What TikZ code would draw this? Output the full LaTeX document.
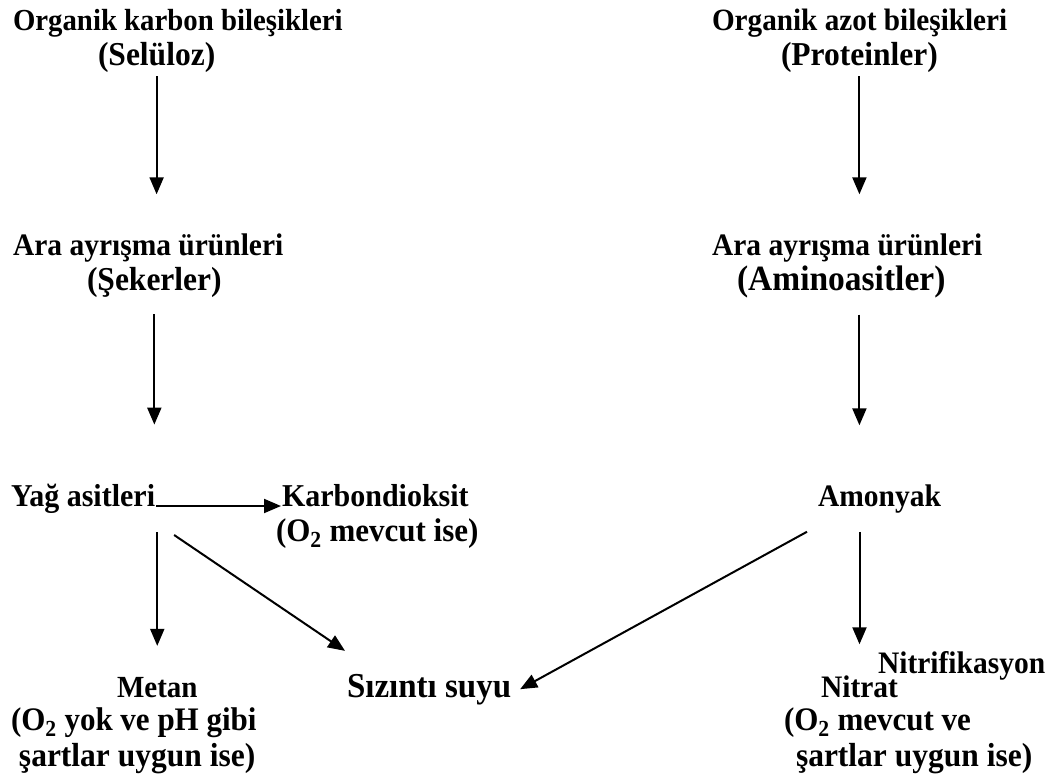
\documentclass[tikz,border=0pt]{standalone}
\usepackage{fontspec}
\setmainfont{Liberation Serif}
\usetikzlibrary{arrows.meta}
\newcommand\tl[1]{\scalebox{1}[1.06]{#1}}
\begin{document}
\begin{tikzpicture}[x=1pt,y=-1pt,
  lbl/.style={anchor=base west,inner sep=0pt,font=\fontsize{#1}{34}\selectfont\bfseries},
  lbl/.default=30,
  >={Triangle[length=17pt,width=14pt]},line width=2pt]
\useasboundingbox (0,0) rectangle (1053,776);
% karbon kolonu
\node[lbl=28.8] (OKB) at (12,31) {\tl{Organik karbon bileşikleri}};
\node[lbl=31.5] (SEL) at (97,66) {\tl{(Selüloz)}};
\node[lbl=29.5] (AAL) at (12,255) {\tl{Ara ayrışma ürünleri}};
\node[lbl=31.5] (SEK) at (86,290) {\tl{(Şekerler)}};
\node[lbl] (YAG) at (10,506) {\tl{Yağ asitleri}};
\node[lbl] (KDO) at (281,506) {\tl{Karbondioksit}};
\node[lbl=31] (KDC) at (275,541) {\tl{(O\textsubscript{2} mevcut ise)}};
\node[lbl=29] (MET) at (116,697) {\tl{Metan}};
\node[lbl=31] (MC1) at (10,730) {\tl{(O\textsubscript{2} yok ve pH gibi}};
\node[lbl=31.5] (MC2) at (18,766) {\tl{şartlar uygun ise)}};
\node[lbl=33] (SIZ) at (346,697) {\tl{Sızıntı suyu}};
% azot kolonu
\node[lbl=29.2] (OAB) at (711,31) {\tl{Organik azot bileşikleri}};
\node[lbl=31.5] (PRO) at (780,66) {\tl{(Proteinler)}};
\node[lbl=29.5] (AAR) at (711,255) {\tl{Ara ayrışma ürünleri}};
\node[lbl=33.5] (AMI) at (736,290) {\tl{(Aminoasitler)}};
\node[lbl=29.5] (AMO) at (817,506) {\tl{Amonyak}};
\node[lbl=29.5] (NTF) at (877,673) {\tl{Nitrifikasyon}};
\node[lbl=29.5] (NIT) at (820,697) {\tl{Nitrat}};
\node[lbl=31] (NC1) at (783,730) {\tl{(O\textsubscript{2} mevcut ve}};
\node[lbl=31.5] (NC2) at (795,766) {\tl{şartlar uygun ise)}};
% oklar
\path [->,shorten <=2pt,shorten >=38pt] (SEL.south) edge (SEL.south |- AAL.north);
\path [->,shorten <=16pt,shorten >=58pt] (SEK.south) edge (SEK.south |- YAG.north);
\path [->] (YAG.base east) edge (KDO.base west);
\path [->,shorten <=18pt,shorten >=30pt] (MET.north |- YAG.south) edge (MET.north);
\path [->] ([xshift=18pt,yshift=-21pt]YAG.south east) edge ([xshift=-1pt,yshift=22pt]SIZ.north west);
\path [->,shorten <=2pt,shorten >=38pt] (PRO.south) edge (PRO.south |- AAR.north);
\path [->,shorten <=16pt,shorten >=58pt] (PRO.south |- AMI.south) edge (PRO.south |- AMO.north);
\path [->,shorten <=18pt,shorten >=30pt] (NIT.north |- AMO.south) edge (NIT.north);
\path [->] ([xshift=-10pt,yshift=-18pt]AMO.south west) edge ([xshift=8pt]SIZ.east);
\end{tikzpicture}
\end{document}
